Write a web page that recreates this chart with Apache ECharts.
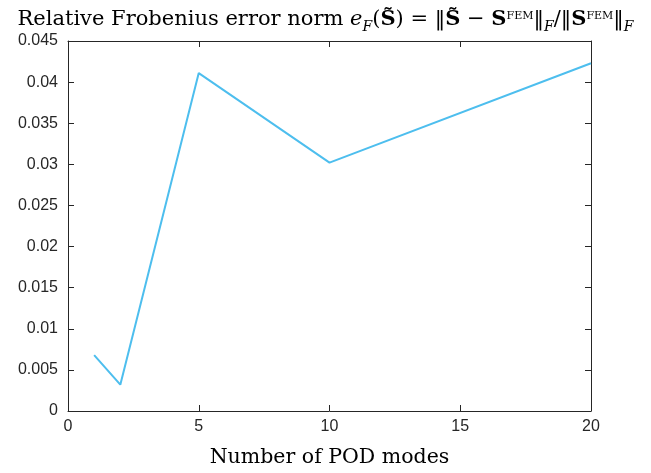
<!DOCTYPE html>
<html><head><meta charset="utf-8">
<script src="https://cdn.jsdelivr.net/npm/echarts@6/dist/echarts.min.js"></script>
<style>html,body{margin:0;padding:0;background:#fff}#c{width:651px;height:473px}</style>
</head><body><div id="c"></div>
<script>
const modes = [1, 2, 5, 10, 20];
const errors = [0.0068, 0.0032, 0.0411, 0.0302, 0.0423];
const xTicks = [0, 5, 10, 15, 20];
const yTicks = [0, 0.005, 0.01, 0.015, 0.02, 0.025, 0.03, 0.035, 0.04, 0.045];

const chart = echarts.init(document.getElementById('c'));
const axisCol = '#262626';
const serif = 'DejaVu Serif';
const base = {fontFamily: serif, fontSize: 21, fontWeight: 'normal', color: '#000', lineHeight: 26};
const sub = {fontFamily: serif, fontSize: 14, fontWeight: 'normal', color: '#000', lineHeight: 26, verticalAlign: 'bottom'};
const rich = {
  n: base,
  i: Object.assign({}, base, {fontStyle: 'italic'}),
  b: Object.assign({}, base, {fontWeight: 'bold'}),
  sb: Object.assign({}, sub, {fontStyle: 'italic', padding:[0,0,-1,0]}),
  sp: Object.assign({}, sub, {fontSize: 11, padding:[0,0,11,0]})
};
const titleText = '{n|Relative Frobenius error norm }{i|e}{sb|F}{n|(}{b|S̃}{n|) = ‖}{b|S̃}{n| − }{b|S}{sp|FEM}{n|‖}{sb|F}{n|/‖}{b|S}{sp|FEM}{n|‖}{sb|F}';

const mkX = (pos, labels) => ({
  type: 'value', position: pos, min: 0, max: 20, interval: 5,
  axisLine: {show: true, onZero: false, lineStyle: {color: axisCol, width: 1}},
  axisTick: {show: true, inside: true, length: 6, lineStyle: {color: axisCol}},
  axisLabel: {show: labels, color: axisCol, fontFamily: 'Liberation Sans', fontSize: 16, margin: 8},
  splitLine: {show: false}
});
const mkY = (pos, labels) => ({
  type: 'value', position: pos, min: 0, max: 0.045, interval: 0.005,
  axisLine: {show: true, onZero: false, lineStyle: {color: axisCol, width: 1}},
  axisTick: {show: true, inside: true, length: 6, lineStyle: {color: axisCol}},
  axisLabel: {show: labels, color: axisCol, fontFamily: 'Liberation Sans', fontSize: 16, margin: 10,
    formatter: v => { const t = yTicks.find(q => Math.abs(q - v) < 1e-9); return t === undefined ? '' : String(+t.toFixed(3)); }},
  splitLine: {show: false}
});

const xa = mkX('bottom', true);
xa.name = 'Number of POD modes';
xa.nameLocation = 'middle';
xa.nameGap = 36;
xa.nameTextStyle = {fontFamily: serif, fontSize: 20.5, color: '#000'};
xa.axisLabel.formatter = v => xTicks.includes(v) ? String(v) : '';

chart.setOption({
  backgroundColor: '#fff',
  animation: false,
  title: {text: titleText, left: 'center', top: 2, textStyle: {fontWeight: 'normal', rich: rich}},
  grid: {left: 68, right: 60, top: 41, bottom: 60, containLabel: false},
  xAxis: [xa, mkX('top', false)],
  yAxis: [mkY('left', true), mkY('right', false)],
  series: [{
    type: 'line', xAxisIndex: 0, yAxisIndex: 0,
    data: modes.map((m, k) => [m, errors[k]]),
    showSymbol: false, symbol: 'none',
    lineStyle: {color: '#4DBEEE', width: 2},
    itemStyle: {color: '#4DBEEE'}
  }]
});
</script></body></html>
